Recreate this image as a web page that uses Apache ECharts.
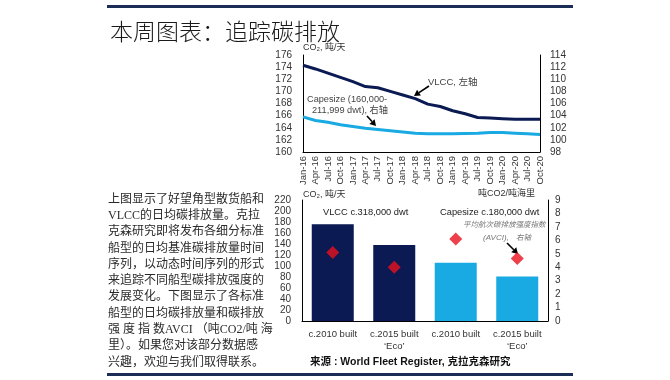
<!DOCTYPE html>
<html><head><meta charset="utf-8">
<script src="https://cdn.jsdelivr.net/npm/echarts@6/dist/echarts.min.js"></script>
<style>html,body{margin:0;padding:0;background:#fff}#c{width:670px;height:380px}</style>
</head><body><div id="c"></div>
<script>
const quarters = ['Jan-16','Apr-16','Jul-16','Oct-16','Jan-17','Apr-17','Jul-17','Oct-17','Jan-18','Apr-18','Jul-18','Oct-18','Jan-19','Apr-19','Jul-19','Oct-19','Jan-20','Apr-20','Jul-20','Oct-20'];
const vlccDaily = [174.3,173.7,173.0,172.3,171.6,170.8,170.6,170.0,169.4,168.8,167.9,167.5,166.8,166.3,165.7,165.6,165.5,165.4,165.4,165.4];
const capeDaily = [103.8,103.2,102.9,102.5,102.2,101.9,101.7,101.5,101.3,101.1,101.0,101.0,101.0,101.05,101.1,101.2,101.2,101.1,101.0,100.9];
const shipCats = ["c.2010 built", "c.2015 built\n‘Eco’", "c.2010 built", "c.2015 built\n‘Eco’"];
const shipDailyCO2 = [176, 138, 106, 81];
const shipAVCI = [5.1, 4.0, 6.1, 4.65];
const paragraph = [
 '上图显示了好望角型散货船和',
 'VLCC的日均碳排放量。克拉',
 '克森研究即将发布各细分标准',
 '船型的日均基准碳排放量时间',
 '序列，以动态时间序列的形式',
 '来追踪不同船型碳排放强度的',
 '发展变化。下图显示了各标准',
 '船型的日均碳排放量和碳排放',
 '强 度 指 数AVCI （吨CO2/吨 海',
 '里）。如果您对该部分数据感',
 '兴趣，欢迎与我们取得联系。'
];

const NAVY = '#0b1a52', LBLUE = '#19a9e3', RED = '#e8101e';
const SANS = "'Liberation Sans', Arial, 'Noto Sans CJK SC', sans-serif";
const PARA = "'Liberation Serif', 'Noto Sans CJK SC', serif";

function txt(t, x, y, size, color, extra) {
  return {type:'text', style:Object.assign({text:t, x:x, y:y, fill:color||'#333', fontSize:size, fontFamily:SANS, verticalAlign:'middle'}, extra||{})};
}
function arrow(x1,y1,x2,y2){
  const a = Math.atan2(y2-y1, x2-x1), L = 6, W = 3.5;
  const bx = x2 - L*Math.cos(a), by = y2 - L*Math.sin(a);
  return {type:'group', children:[
    {type:'line', shape:{x1:x1,y1:y1,x2:bx,y2:by}, style:{stroke:'#000', lineWidth:1.6}},
    {type:'polygon', shape:{points:[[x2,y2],[bx+W*Math.sin(a), by-W*Math.cos(a)],[bx-W*Math.sin(a), by+W*Math.cos(a)]]}, style:{fill:'#000'}}
  ]};
}

const graphics = [
  {type:'rect', shape:{x:107,y:5,width:466,height:3}, style:{fill:'#1b2d57'}},
  {type:'rect', shape:{x:107,y:373,width:466,height:3}, style:{fill:'#1b2d57'}},
  txt('本周图表：追踪碳排放', 110, 31, 23, '#1a1a1a', {fontFamily:"'Noto Sans CJK SC', sans-serif", fontWeight:300}),
  txt('CO₂, 吨/天', 303, 48, 9, '#333'),
  txt('VLCC, 左轴', 428, 82, 9.5, '#444'),
  arrow(429, 86, 414, 96),
  txt('Capesize (160,000-', 307, 99, 9.2, '#444'),
  txt('211,999 dwt), 右轴', 312, 110, 9.2, '#444'),
  arrow(367, 116, 376, 126),
  txt('CO₂, 吨/天', 303, 195, 9, '#333'),
  txt('吨CO2/吨海里', 535, 194, 9, '#333', {align:'right'}),
  txt('VLCC c.318,000 dwt', 323, 212, 9.3, '#222'),
  txt('Capesize c.180,000 dwt', 440, 212, 9.3, '#222'),
  txt('平均航次碳排放强度指数', 463, 225, 7.5, '#777', {fontStyle:'italic'}),
  txt('(AVCI),', 483, 238, 8, '#777', {fontStyle:'italic'}),
  txt('右轴', 516, 238, 7.5, '#777', {fontStyle:'italic'}),
  arrow(507, 243, 518, 254),
  txt('来源 : World Fleet Register, 克拉克森研究', 310, 362, 10.5, '#111', {fontWeight:'bold'})
];
paragraph.forEach((line, i) => {
  graphics.push(txt(line, 108, 199.5 + i*16.3, 12, '#2a2a2a', {fontFamily:PARA}));
});

const axisLineStyle = {show:true, lineStyle:{color:'#000', width:1}};
const lab = (extra) => Object.assign({color:'#333', fontSize:10, fontFamily:SANS}, extra||{});

const option = {
  animation:false,
  backgroundColor:'#fff',
  grid:[
    {left:303, top:55, width:237, height:97},
    {left:302, top:200, width:246, height:121}
  ],
  xAxis:[
    {gridIndex:0, type:'category', data:quarters, boundaryGap:false, axisLine:axisLineStyle, axisTick:{show:false},
     axisLabel:lab({rotate:90, interval:0, margin:4, fontSize:9.5})},
    {gridIndex:1, type:'category', data:shipCats, axisLine:axisLineStyle, axisTick:{show:false},
     axisLabel:lab({interval:0, margin:7, lineHeight:12, fontSize:9.5})}
  ],
  yAxis:[
    {gridIndex:0, type:'value', min:160, max:176, interval:2, axisLine:axisLineStyle, axisTick:{show:false}, splitLine:{show:false}, axisLabel:lab({margin:11})},
    {gridIndex:0, type:'value', position:'right', min:98, max:114, interval:2, axisLine:axisLineStyle, axisTick:{show:false}, splitLine:{show:false}, axisLabel:lab({margin:10})},
    {gridIndex:1, type:'value', min:0, max:220, interval:20, axisLine:axisLineStyle, axisTick:{show:false}, splitLine:{show:false}, axisLabel:lab({margin:11})},
    {gridIndex:1, type:'value', position:'right', min:0, max:9, interval:1, axisLine:axisLineStyle, axisTick:{show:false}, splitLine:{show:false}, axisLabel:lab({margin:7})}
  ],
  series:[
    {type:'line', xAxisIndex:0, yAxisIndex:0, data:vlccDaily, symbol:'none', lineStyle:{color:NAVY, width:3}, z:3},
    {type:'line', xAxisIndex:0, yAxisIndex:1, data:capeDaily, symbol:'none', lineStyle:{color:LBLUE, width:3}, z:3},
    {type:'bar', xAxisIndex:1, yAxisIndex:2, barWidth:42,
     data:shipDailyCO2.map((v,i)=>({value:v, itemStyle:{color: i<2 ? NAVY : LBLUE}}))},
    {type:'scatter', xAxisIndex:1, yAxisIndex:3, data:shipAVCI, symbol:'diamond', symbolSize:[13,13], itemStyle:{color:RED}, z:5}
  ],
  graphic:graphics
};
const chart = echarts.init(document.getElementById('c'), null, {renderer:'canvas'});
chart.setOption(option);
</script></body></html>
